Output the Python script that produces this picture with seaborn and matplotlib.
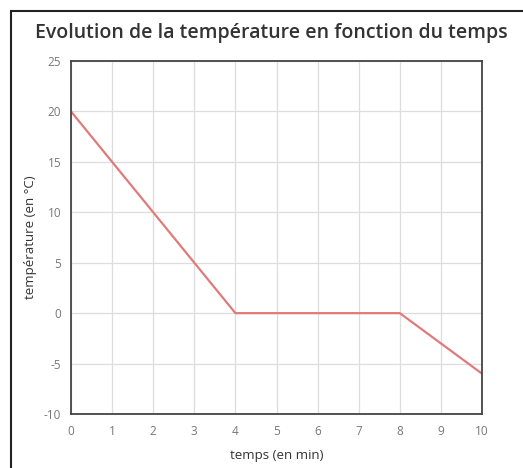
import pandas as pd
import seaborn as sns
from matplotlib import pyplot as plt
from matplotlib.patches import Rectangle

# data
temps = [0, 4, 8, 10]
temperature = [20, 0, 0, -6]
x_ticks = [0, 1, 2, 3, 4, 5, 6, 7, 8, 9, 10]
y_ticks = [-10, -5, 0, 5, 10, 15, 20, 25]

df = pd.DataFrame({'temps': temps, 'temperature': temperature})

sns.set_style('white')
plt.rcParams['font.family'] = ['Open Sans', 'DejaVu Sans']
plt.rcParams['axes.unicode_minus'] = False

fig = plt.figure(figsize=(5.23, 4.68), dpi=100)
ax = fig.add_axes([71 / 523, 1 - 414 / 468, (482 - 71) / 523, (414 - 61) / 468])

sns.lineplot(data=df, x='temps', y='temperature', ax=ax, color='#e07b7b', lw=1.6)

ax.set_xlim(0, 10)
ax.set_ylim(-10, 25)
ax.set_xticks(x_ticks)
ax.set_yticks(y_ticks)
ax.grid(True, color='#dddddd', lw=0.9)
for s in ax.spines.values():
    s.set_color('#444444')
    s.set_linewidth(1.3)
ax.tick_params(axis='both', length=0, labelsize=8.5, colors='#777777')
ax.tick_params(axis='x', pad=8)
ax.tick_params(axis='y', pad=7)
ax.set_xlabel('temps (en min)', fontsize=9.5, color='#333333', labelpad=8)
ax.set_ylabel('température (en °C)', fontsize=9.5, color='#333333', labelpad=5)

fig.text(271 / 523, 1 - 33 / 468, 'Evolution de la température en fonction du temps',
         ha='center', va='center', fontsize=14, fontweight='semibold', color='#333333')

# outer frame of the screenshot
fig.patches.append(Rectangle((11 / 523, -0.1), 1.2, 1 - 11 / 468 + 0.1,
                             transform=fig.transFigure, fill=False,
                             edgecolor='#222222', lw=1.5))

fig.savefig('out.png', dpi=100)
